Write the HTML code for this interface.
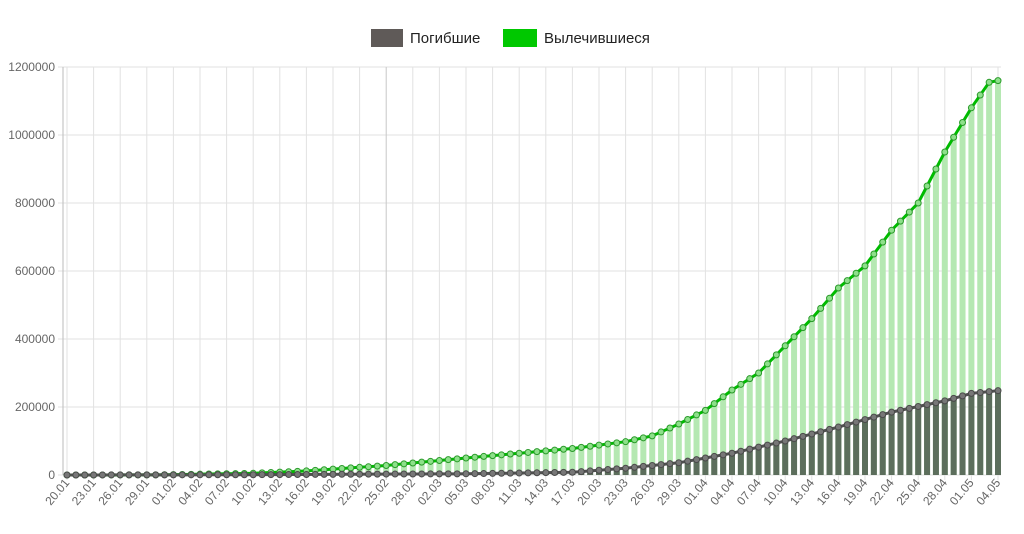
<!DOCTYPE html>
<html><head><meta charset="utf-8"><style>
body{margin:0;background:#fff;font-family:"Liberation Sans",sans-serif}
svg{display:block}
</style></head><body>
<svg id="c" width="1024" height="534" xmlns="http://www.w3.org/2000/svg" font-family="Liberation Sans, sans-serif">
<rect x="371" y="29" width="32" height="18" fill="#5f5a58"/>
<text x="410" y="43" font-size="15" fill="#222">Погибшие</text>
<rect x="503" y="29" width="34" height="18" fill="#00c800"/>
<text x="544" y="43" font-size="15" fill="#222">Вылечившиеся</text>
<g font-size="12" fill="#666" text-anchor="end">
<text x="55" y="479">0</text>
<text x="55" y="411">200000</text>
<text x="55" y="343">400000</text>
<text x="55" y="275">600000</text>
<text x="55" y="207">800000</text>
<text x="55" y="139">1000000</text>
<text x="55" y="71">1200000</text>
</g>
<g id="g"></g>
</svg>
<script>
var labels=["20.01","23.01","26.01","29.01","01.02","04.02","07.02","10.02","13.02","16.02","19.02","22.02","25.02","28.02","02.03","05.03","08.03","11.03","14.03","17.03","20.03","23.03","26.03","29.03","01.04","04.04","07.04","10.04","13.04","16.04","19.04","22.04","25.04","28.04","01.05","04.05"];
var g=document.getElementById('g'),h='';
var x0=67,dx=(998-67)/105,yb=475,ys=408/1200000;
function X(d){return x0+d*dx}function Y(v){return yb-v*ys}
for(var i=0;i<=6;i++){var y=yb-i*68;h+='<line x1="58" x2="1001" y1="'+y+'" y2="'+y+'" stroke="#e2e2e2"/>';}
for(var i=0;i<36;i++){var x=X(i*3);h+='<line x1="'+x+'" x2="'+x+'" y1="67" y2="480" stroke="'+(i==12?'#c8c8c8':'#e2e2e2')+'"/>';
h+='<text transform="translate('+(x+3)+',483) rotate(-50)" text-anchor="end" font-size="12" fill="#666">'+labels[i]+'</text>';}
h+='<line x1="63" x2="63" y1="67" y2="475" stroke="#bbb"/>';
function interp(pts){var r=[];for(var d=0;d<=105;d++){for(var k=0;k<pts.length-1;k++){if(d>=pts[k][0]&&d<=pts[k+1][0]){var t=(d-pts[k][0])/(pts[k+1][0]-pts[k][0]);r.push(pts[k][1]+t*(pts[k+1][1]-pts[k][1]));break;}}}return r;}
var R=interp([[0,0],[10,300],[21,5000],[27,12000],[36,28000],[45,50000],[57,78000],[63,98000],[66,115000],[69,150000],[72,190000],[75,250000],[78,300000],[81,380000],[84,460000],[87,550000],[90,615000],[93,720000],[96,800000],[99,950000],[102,1080000],[104,1155000],[105,1160000]]);
var D=interp([[0,0],[21,800],[36,2700],[45,3500],[57,8000],[63,20000],[69,36000],[75,64000],[81,100000],[87,141000],[93,185000],[99,218000],[102,240000],[105,248000]]);
for(var d=0;d<=105;d++){var x=X(d)-3;h+='<rect x="'+x+'" y="'+Y(R[d])+'" width="6" height="'+(R[d]*ys)+'" fill="#b5e8b2"/>';h+='<rect x="'+x+'" y="'+Y(D[d])+'" width="6" height="'+(D[d]*ys)+'" fill="#5c6e5c"/>';}
var pr='',pd='';for(var d=0;d<=105;d++){pr+=X(d)+','+Y(R[d])+' ';pd+=X(d)+','+Y(D[d])+' ';}
h+='<polyline points="'+pr+'" fill="none" stroke="#00bb00" stroke-width="3"/>';
h+='<polyline points="'+pd+'" fill="none" stroke="#505050" stroke-width="3"/>';
for(var d=0;d<=105;d++){h+='<circle cx="'+X(d)+'" cy="'+Y(R[d])+'" r="3" fill="#8de08a" stroke="#2a9a2a"/>';h+='<circle cx="'+X(d)+'" cy="'+Y(D[d])+'" r="3" fill="#777" stroke="#4a4a4a"/>';}
g.innerHTML=h;
</script>
</body></html>
